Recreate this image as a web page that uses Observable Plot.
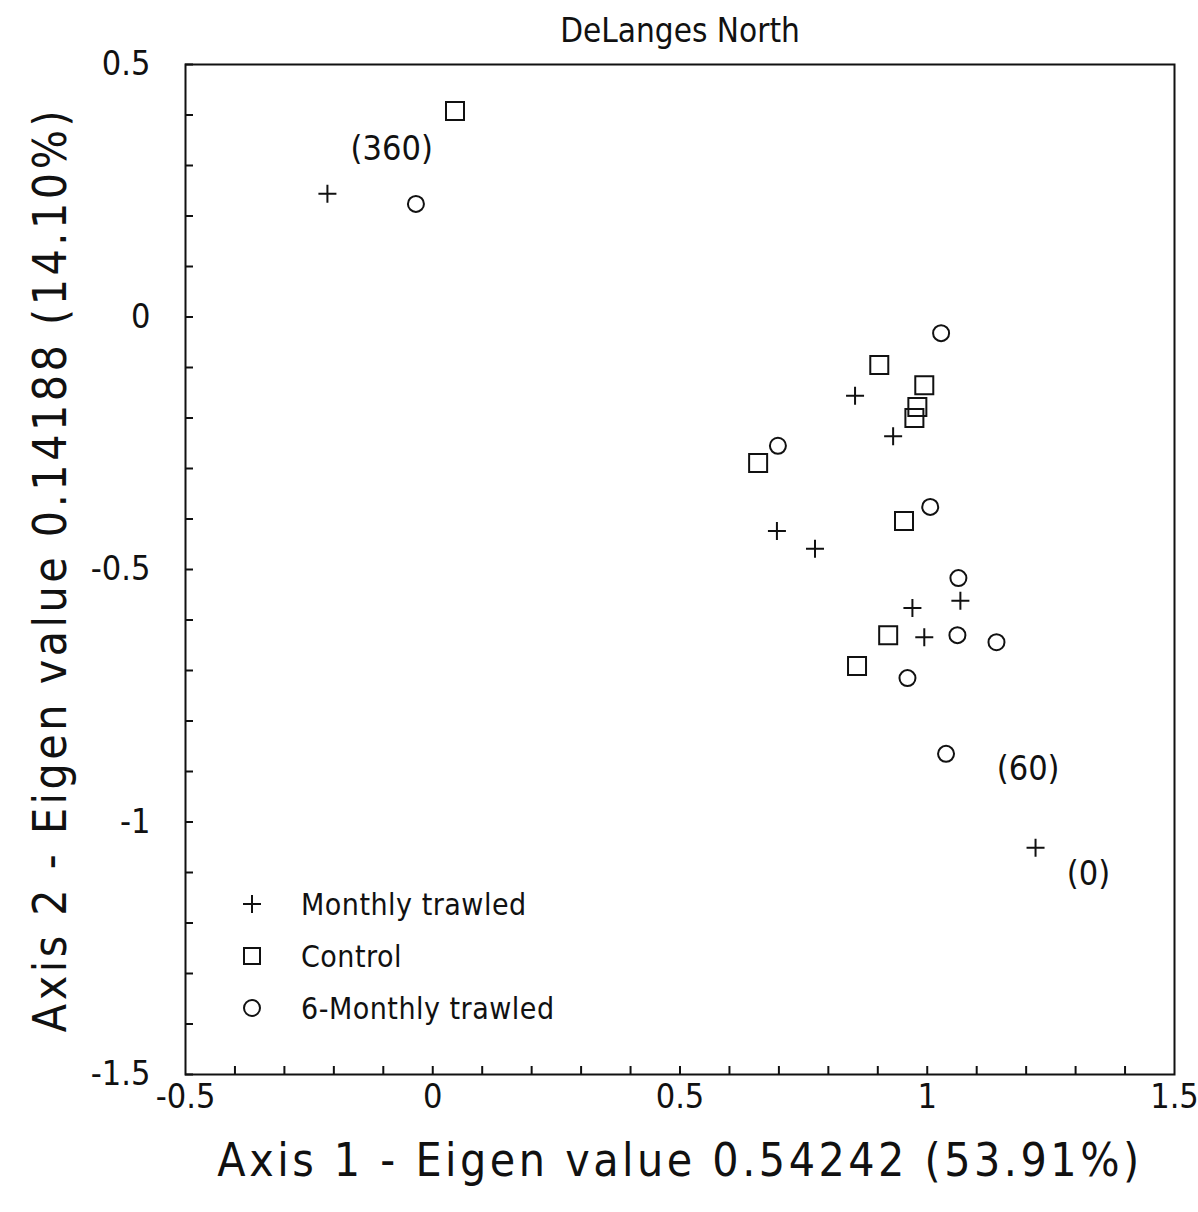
<!DOCTYPE html>
<html>
<head>
<meta charset="utf-8">
<script src="https://cdn.jsdelivr.net/npm/d3@7"></script>
<script src="https://cdn.jsdelivr.net/npm/@observablehq/plot@0.6"></script>
<style>
  html, body { margin: 0; padding: 0; background: #fff; }
  #wrap { position: relative; width: 1198px; height: 1212px; font-family: "Liberation Sans Narrow", "DejaVu Sans Condensed", "Arial Narrow", sans-serif; }
  #legend { position: absolute; left: 232px; top: 878px; }
  .item { display: flex; align-items: center; height: 52px; font-size: 30px; letter-spacing: 0.5px; color: #111; }
  .item svg { width: 40px; height: 40px; margin-right: 29px; }
</style>
</head>
<body>
<div id="wrap"><div id="chart"></div><div id="legend"></div></div>
<script>
// --- data ---
const monthlyX = [-0.213, 0.854, 0.931, 0.696, 0.773, 0.970, 1.067, 0.994, 1.219];
const monthlyY = [0.244, -0.156, -0.236, -0.424, -0.459, -0.576, -0.562, -0.634, -1.051];
const controlX = [0.045, 0.903, 0.994, 0.980, 0.974, 0.658, 0.953, 0.921, 0.858];
const controlY = [0.408, -0.095, -0.135, -0.178, -0.200, -0.289, -0.404, -0.630, -0.691];
const sixX = [-0.034, 1.028, 0.698, 1.006, 1.063, 1.061, 1.140, 0.960, 1.038];
const sixY = [0.224, -0.032, -0.255, -0.376, -0.517, -0.630, -0.644, -0.715, -0.865];
const noteLabels = ["(360)", "(60)", "(0)"];
const noteX = [-0.083, 1.204, 1.326];
const noteY = [0.333, -0.895, -1.103];
const seriesNames = ["Monthly trawled", "Control", "6-Monthly trawled"];
const xTickLabels = [-0.5, 0, 0.5, 1, 1.5];
const yTickLabels = [0.5, 0, -0.5, -1, -1.5];
const xMinorTicks = [-0.4,-0.3,-0.2,-0.1,0,0.1,0.2,0.3,0.4,0.5,0.6,0.7,0.8,0.9,1,1.1,1.2,1.3,1.4];
const yMinorTicks = [0.5,0.4,0.3,0.2,0.1,0,-0.1,-0.2,-0.3,-0.4,-0.5,-0.6,-0.7,-0.8,-0.9,-1,-1.1,-1.2,-1.3,-1.4,-1.5];
const title = "DeLanges North";
const xLabel = "Axis 1 - Eigen value 0.54242 (53.91%)";
const yLabel = "Axis 2 - Eigen value 0.14188 (14.10%)";

const FONT = '"Liberation Sans Narrow", "DejaVu Sans Condensed", "Arial Narrow", sans-serif';

const toRows = (xs, ys) => xs.map((x, i) => ({x, y: ys[i]}));
const monthly = toRows(monthlyX, monthlyY);
const control = toRows(controlX, controlY);
const six = toRows(sixX, sixY);
const notes = noteLabels.map((t, i) => ({t, x: noteX[i], y: noteY[i]}));

const plusSym = { draw(ctx, size) { const r = Math.sqrt(size / Math.PI); ctx.moveTo(-r, 0); ctx.lineTo(r, 0); ctx.moveTo(0, -r); ctx.lineTo(0, r); } };
const squareSym = { draw(ctx, size) { const r = Math.sqrt(size / Math.PI); ctx.moveTo(-r, -r); ctx.lineTo(r, -r); ctx.lineTo(r, r); ctx.lineTo(-r, r); ctx.closePath(); } };
const circleSym = { draw(ctx, size) { const r = Math.sqrt(size / Math.PI); ctx.moveTo(r, 0); ctx.arc(0, 0, r, 0, 2 * Math.PI); } };

const fmt = d => String(d);

const chart = Plot.plot({
  width: 1198,
  height: 1212,
  marginLeft: 185,
  marginRight: 24,
  marginTop: 64,
  marginBottom: 138,
  style: { fontFamily: FONT, background: "#fff", color: "#111" },
  x: { domain: [-0.5, 1.5] },
  y: { domain: [-1.5, 0.5] },
  marks: [
    Plot.frame({ stroke: "#111", strokeWidth: 2 }),
    Plot.axisX(xMinorTicks, { tickSize: -8, tickFormat: () => "", strokeWidth: 2, label: null }),
    Plot.axisX(xTickLabels, { tickSize: 0, tickPadding: 9, tickFormat: fmt, fontSize: 34, label: null }),
    Plot.axisY(yMinorTicks, { tickSize: -8, tickFormat: () => "", strokeWidth: 2, label: null }),
    Plot.axisY(yTickLabels, { tickSize: 0, tickPadding: 35, tickFormat: fmt, fontSize: 34, label: null }),
    Plot.dot(monthly, { x: "x", y: "y", symbol: plusSym, r: 9, stroke: "#111", strokeWidth: 2, fill: "none" }),
    Plot.dot(control, { x: "x", y: "y", symbol: squareSym, r: 9, stroke: "#111", strokeWidth: 2, fill: "none" }),
    Plot.dot(six, { x: "x", y: "y", symbol: circleSym, r: 8, stroke: "#111", strokeWidth: 2, fill: "none" }),
    Plot.text(notes, { x: "x", y: "y", text: "t", fontSize: 34, fill: "#111" }),
    Plot.text([title], { frameAnchor: "top", dy: -33, lineAnchor: "middle", textAnchor: "middle", fontSize: 33, fill: "#111" }),
    Plot.text([xLabel], { frameAnchor: "bottom", dy: 87, lineAnchor: "middle", textAnchor: "middle", fontSize: 46, fill: "#111" }),
    Plot.text([yLabel], { frameAnchor: "left", dx: -134, rotate: -90, lineAnchor: "middle", textAnchor: "middle", fontSize: 46, fill: "#111" })
  ]
});
document.getElementById("chart").appendChild(chart);
d3.select(chart).selectAll("text")
  .filter(function() { return this.textContent === xLabel || this.textContent === yLabel; })
  .style("letter-spacing", "3.5px");

// legend
const legendSyms = [plusSym, squareSym, circleSym];
const legendR = [9, 8, 8];
const legend = document.getElementById("legend");
seriesNames.forEach((name, i) => {
  const div = document.createElement("div");
  div.className = "item";
  const r = legendR[i];
  const p = d3.path();
  legendSyms[i].draw(p, r * r * Math.PI);
  div.innerHTML = `<svg viewBox="-20 -20 40 40"><path d="${p.toString()}" fill="none" stroke="#111" stroke-width="2"/></svg><span>${name}</span>`;
  legend.appendChild(div);
});
</script>
</body>
</html>
